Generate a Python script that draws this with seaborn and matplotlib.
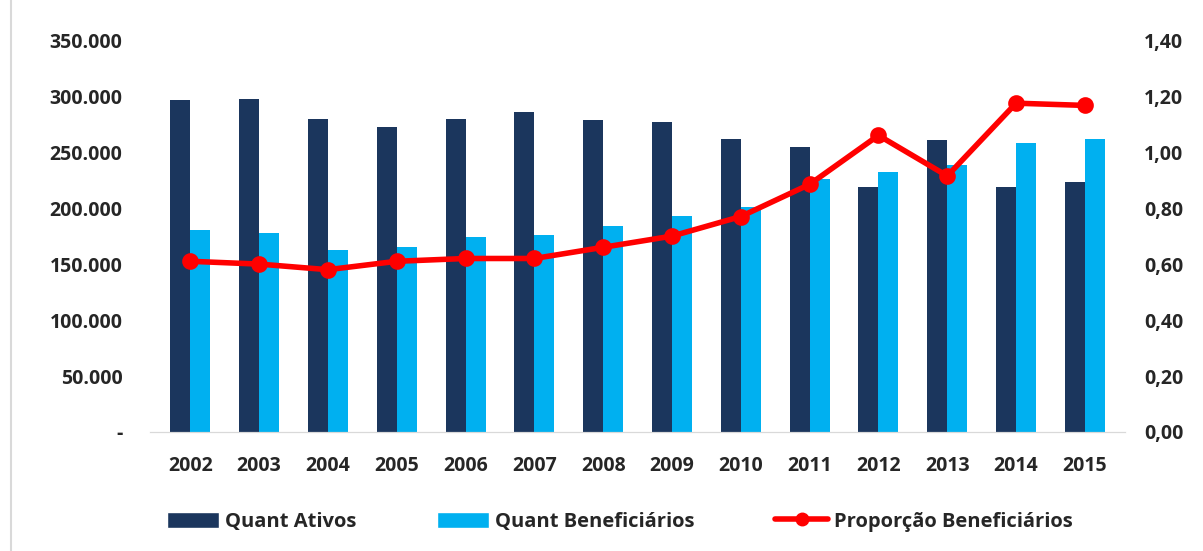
import pandas as pd
import seaborn as sns
import matplotlib.pyplot as plt
from matplotlib.patches import Patch
from matplotlib.lines import Line2D
from matplotlib.ticker import FuncFormatter

# Values
years = ['2002', '2003', '2004', '2005', '2006', '2007', '2008',
         '2009', '2010', '2011', '2012', '2013', '2014', '2015']
ativos = [297000, 297500, 280000, 272500, 279500, 285500, 278500,
          277000, 261500, 255000, 219000, 260500, 219000, 223500]
beneficiarios = [180500, 178000, 163000, 165500, 174000, 176000, 184000,
                 193000, 201000, 226000, 232000, 238500, 258000, 262000]
proporcao = [0.61, 0.60, 0.58, 0.61, 0.62, 0.62, 0.66,
             0.70, 0.77, 0.885, 1.06, 0.915, 1.175, 1.167]

DARK = '#1B365D'
LIGHT = '#00B0F0'
RED = '#FF0000'
FONT = ['Open Sans', 'DejaVu Sans']

sns.set_style('white')
plt.rcParams['font.family'] = FONT
plt.rcParams['font.weight'] = 'bold'

bars = pd.DataFrame({
    'ano': years * 2,
    'valor': ativos + beneficiarios,
    'serie': ['Quant Ativos'] * len(years) + ['Quant Beneficiários'] * len(years),
})

fig = plt.figure(figsize=(12.03, 5.51), dpi=100)
ax = fig.add_axes([0.125, 0.216, 0.81, 0.711])

sns.barplot(data=bars, x='ano', y='valor', hue='serie',
            palette=[DARK, LIGHT], saturation=1, width=0.58, ax=ax,
            legend=False, edgecolor='none')

ax2 = ax.twinx()
sns.pointplot(x=years, y=proporcao, color=RED, ax=ax2,
              linewidth=4, markersize=9)

ax.set_xlim(-0.58, 13.58)
ax.set_ylim(0, 350000)
ax2.set_ylim(0, 1.40)
ax2.set_xlim(-0.58, 13.58)

ax.set_yticks(range(0, 350001, 50000))
ax.yaxis.set_major_formatter(FuncFormatter(
    lambda v, p: '-' if v == 0 else f'{int(v):,}'.replace(',', '.')))
ax2.set_yticks([i * 0.2 for i in range(8)])
ax2.yaxis.set_major_formatter(FuncFormatter(
    lambda v, p: f'{v:.2f}'.replace('.', ',')))

for a in (ax, ax2):
    a.set_xlabel('')
    a.set_ylabel('')
    for s in ('top', 'left', 'right'):
        a.spines[s].set_visible(False)
    a.spines['bottom'].set_color('#D9D9D9')
    a.tick_params(length=0, labelsize=14)

ax.tick_params(axis='y', pad=20)
ax.tick_params(axis='x', pad=17)
ax2.tick_params(axis='y', pad=14)
for lbl in ax.get_xticklabels() + ax.get_yticklabels() + ax2.get_yticklabels():
    lbl.set_fontweight('bold')
    lbl.set_family(FONT)

handles = [
    Patch(facecolor=DARK, label='Quant Ativos'),
    Patch(facecolor=LIGHT, label='Quant Beneficiários'),
    Line2D([0], [0], color=RED, lw=4, marker='o', markersize=9,
           label='Proporção Beneficiários'),
]
fig.legend(handles=handles, loc='center', bbox_to_anchor=(0.515, 0.053),
           ncol=3, frameon=False, handlelength=2.6,
           handleheight=0.8, columnspacing=4.0, handletextpad=0.3,
           prop={'family': FONT, 'weight': 'bold', 'size': 14.5})

# thin border line at the left edge of the picture
fig.add_artist(Line2D([0.009, 0.009], [0.0, 1.0], color='#D9D9D9', lw=1.5))

fig.savefig('out.png', dpi=100)
